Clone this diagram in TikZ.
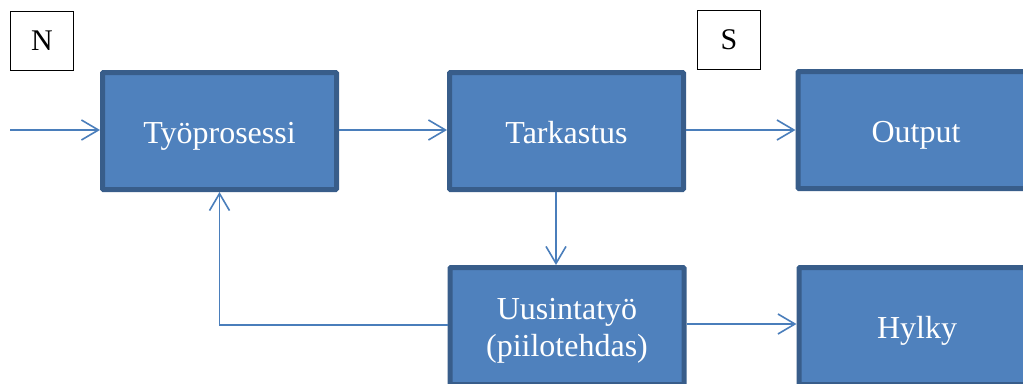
\documentclass[tikz,border=0pt]{standalone}
\usepackage{fontspec}
\setmainfont{Liberation Serif}
\usetikzlibrary{arrows.meta}
\definecolor{boxfill}{HTML}{4F81BD}
\definecolor{boxline}{HTML}{385D8A}
\definecolor{conn}{HTML}{4A7EBB}
\tikzset{
  blue box/.style={draw=boxline, fill=boxfill, line width=5pt, rounded corners=1pt,
    text=white, font=\fontsize{32}{37}\selectfont, align=center,
    text height=30pt, text depth=6pt,
    minimum width=234pt, minimum height=117pt, inner sep=0pt},
  tag box/.style={draw=black, line width=1pt, fill=white, font=\fontsize{30}{34}\selectfont,
    minimum width=63pt, minimum height=59pt, inner sep=0pt},
  conn/.style={draw=conn, line width=1.6pt, -{Straight Barb[length=17pt,width=20pt,line width=1.6pt]}}
}
\begin{document}
\begin{tikzpicture}[x=1pt,y=-1pt]
\useasboundingbox (0,0) rectangle (1023,383);
\clip (0,0) rectangle (1023,383);
\fill[white] (0,0) rectangle (1023,383);
\node[tag box] (n) at (42,41) {N};
\node[tag box] (s) at (729,40) {S};
\node[blue box] (tp) at (219.5,131) {Työprosessi};
\node[blue box] (tk) at (566.5,131) {Tarkastus};
\node[blue box, minimum width=236pt] (out) at (916,130) {Output};
\node[blue box, text height=67pt] (uu) at (567,326) {Uusintatyö\\(piilotehdas)};
\node[blue box, minimum width=236pt] (hy) at (917,326) {Hylky};
\coordinate (in) at (10,130);
\coordinate (tkd) at ([xshift=-10.5pt]tk.south);
\draw[conn] (in) -- (tp.west |- in);
\draw[conn] (tp.east |- 0,130) -- (tk.west |- 0,130);
\draw[conn] (tk.east |- 0,130) -- (out.west |- 0,130);
\draw[conn] (tkd) -- (tkd |- uu.north);
\draw[conn] (uu.west |- 0,325) -| (tp.south);
\draw[conn] (uu.east |- 0,324) -- (hy.west |- 0,324);
\end{tikzpicture}
\end{document}
